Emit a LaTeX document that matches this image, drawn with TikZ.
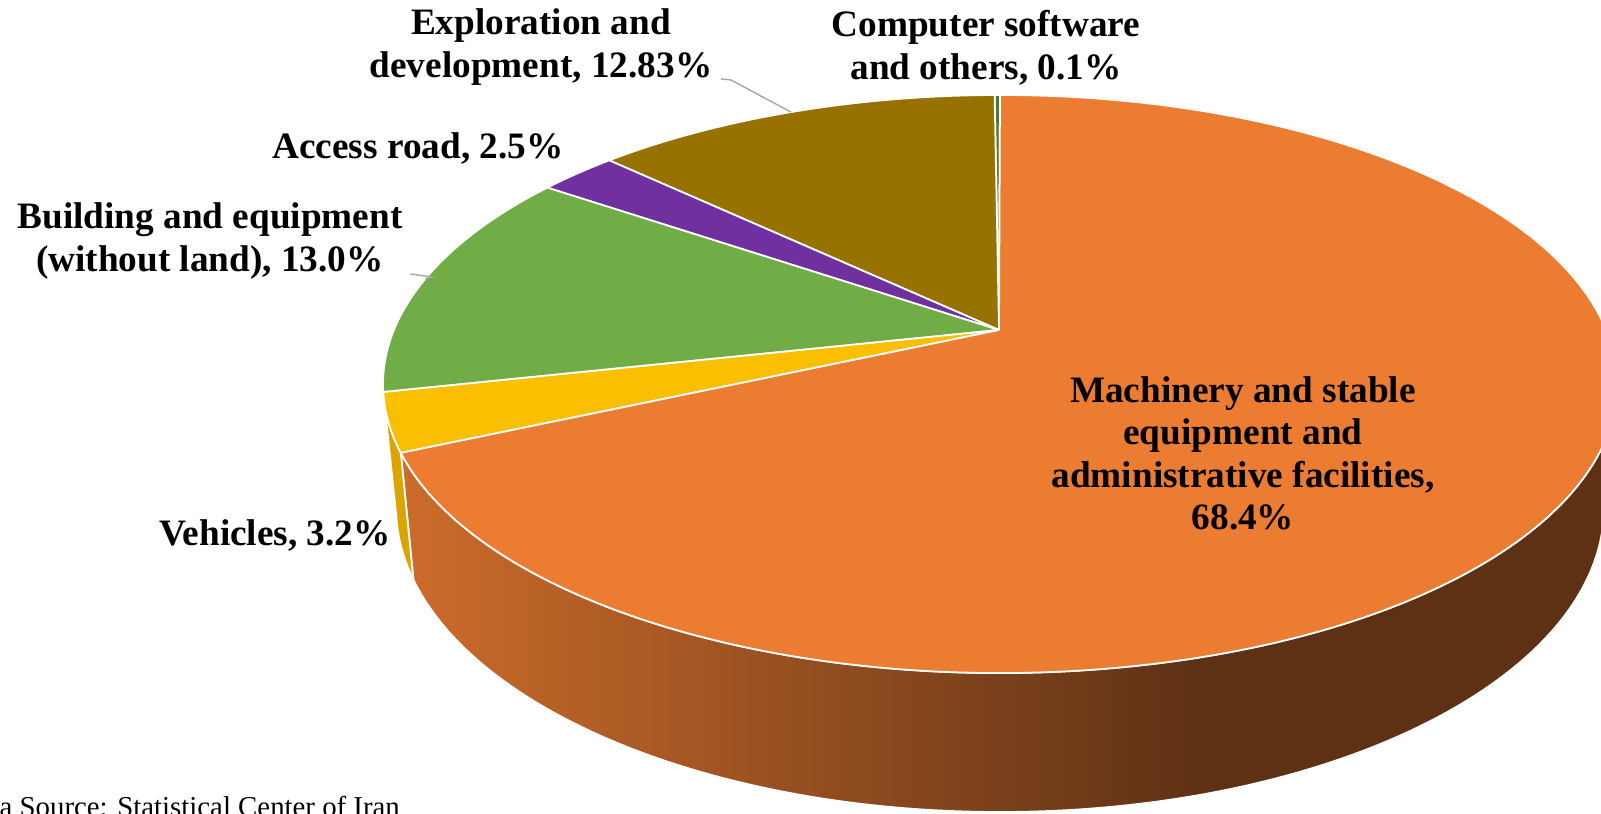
\documentclass[tikz,border=0pt]{standalone}
\usepackage{fontspec}
\setmainfont{Liberation Serif}
\usepackage{tikz}
\usetikzlibrary{calc}
\usetikzlibrary{positioning}

\definecolor{machiC}{HTML}{EB7C31}
\definecolor{vehicC}{HTML}{FABF00}
\definecolor{buildC}{HTML}{70AD47}
\definecolor{roadC}{HTML}{7030A0}
\definecolor{exploC}{HTML}{977200}
\definecolor{softC}{HTML}{4E7A30}
\definecolor{vehicSide}{HTML}{DCA400}
\definecolor{sideL}{HTML}{CC6C2B}
\definecolor{sideD}{HTML}{5E3115}
\definecolor{leaderC}{HTML}{A6A6A6}
\pgfdeclarehorizontalshading{sideshade}{100bp}{color(0bp)=(sideL); color(25bp)=(sideL); color(58bp)=(sideD); color(100bp)=(sideD)}

\begin{document}
\begin{tikzpicture}[
        slice/.style={draw=white, line width=0.5pt, line join=round},
        lbl/.style={font=\fontsize{10.6}{12.1}\selectfont\bfseries, align=center, inner sep=0pt, anchor=south},
        leader/.style={draw=leaderC, line width=0.4pt}
    ]
        \useasboundingbox (0,0) rectangle (16.01,8.14);
        \clip (0,0) rectangle (16.01,8.14);

        % Pie geometry: top face, bottom rim, apex
        \coordinate (T) at (10.00,4.30);
        \coordinate (B) at (10.00,3.07);
        \coordinate (A) at (9.99,4.84);

        % Side walls (front half only)
        \draw[slice, shading=sideshade]
            ([shift={(T)}]193.8:6.17 and 2.89) arc[start angle=193.8, end angle=360, x radius=6.17, y radius=2.89]
            -- ([shift={(B)}]0:6.04 and 3.05) arc[start angle=360, end angle=193.8, x radius=6.04, y radius=3.05] -- cycle;
        \draw[slice, fill=vehicSide]
            ([shift={(T)}]181.6:6.17 and 2.89) arc[start angle=181.6, end angle=193.8, x radius=6.17, y radius=2.89]
            -- ([shift={(B)}]193.8:6.04 and 3.05) arc[start angle=193.8, end angle=181.6, x radius=6.04, y radius=3.05] -- cycle;

        % Top face slices
        \foreach \a/\b/\c in {90/90.5/softC, 90.5/129.3/exploC, 129.3/137.2/roadC,
                              137.2/181.6/buildC, 181.6/193.8/vehicC, 193.8/450/machiC} {
            \draw[slice, fill=\c] (A) -- ([shift={(T)}]\a:6.17 and 2.89)
                arc[start angle=\a, end angle=\b, x radius=6.17, y radius=2.89] -- cycle;
        }

        % Labels
        \node[lbl] (explo) at (5.41,7.28) {Exploration and\\development, 12.83\%};
        \node[lbl] (softw) at (9.86,7.28) {Computer software\\and others, 0.1\%};
        \node[lbl] (road) at (4.18,6.49) {Access road, 2.5\%};
        \node[lbl] (build) at (2.10,5.34) {Building and equipment\\(without land), 13.0\%};
        \node[lbl] (vehic) at (2.75,2.62) {Vehicles, 3.2\%};
        \node[lbl] (machi) at (12.43,2.83) {Machinery and stable\\equipment and\\administrative facilities,\\68.4\%};
        \node[font=\fontsize{8.2}{9.8}\selectfont, inner sep=0pt, anchor=base west] (src) at (-0.01,-0.03) {a Source: Statistical Center of Iran};

        % Leader lines
        \coordinate (exploTip) at ([shift={(T)}]109.8:6.17 and 2.89);
        \coordinate (buildTip) at ([shift={(T)}]158.7:6.17 and 2.89);
        \draw[leader] ([xshift=0.08cm, yshift=0.07cm]explo.south east) -- ++(0.10,-0.01) -- (exploTip);
        \draw[leader] ([xshift=0.07cm, yshift=0.06cm]build.south east) -- ++(0.22,-0.03) -- (buildTip);
    \end{tikzpicture}
\end{document}
